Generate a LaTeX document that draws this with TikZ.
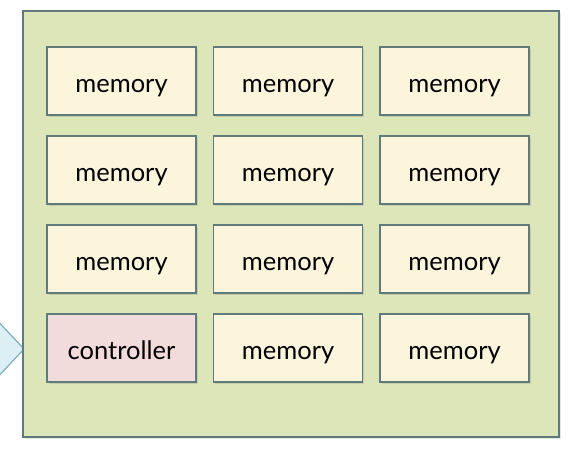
\documentclass[tikz,border=0pt]{standalone}
\usepackage{fontspec}
\setmainfont{Lato}
\usepackage{tikz}
\usetikzlibrary{positioning}
\usetikzlibrary{shadows}

\definecolor{boardgreen}{HTML}{DCE6B9}
\definecolor{boxcream}{HTML}{FDF4DC}
\definecolor{ctrlpink}{HTML}{F2DCDB}
\definecolor{edgegray}{HTML}{5F7B7B}
\definecolor{arrowblue}{HTML}{DCEFF5}
\definecolor{arrowedge}{HTML}{7AAFC0}

\tikzset{
	cell/.style={draw=edgegray,line width=1.4pt,fill=boxcream,minimum width=149pt,minimum height=68pt,
		inner sep=0pt,outer sep=0pt,text height=26pt,text depth=3pt,font=\fontsize{25.5}{30}\selectfont,
		drop shadow={shadow xshift=1.5pt,shadow yshift=-1.5pt,opacity=0.25}},
	ctrlcell/.style={cell,fill=ctrlpink},
}

\begin{document}
\begin{tikzpicture}[x=1pt,y=1pt,node distance=21pt and 17.5pt]
			\useasboundingbox (0,0) rectangle (572,-458);
			%incoming arrow tip
			\draw[arrowedge,line width=1.2pt,fill=arrowblue] (-5,-318)--(24,-349)--(-5,-380);
			%board
			\coordinate (NW) at (23,-11);
			\coordinate (SE) at (559,-437);
			\draw[edgegray,line width=1.4pt,fill=boardgreen,drop shadow={shadow xshift=1.5pt,shadow yshift=-1.5pt,opacity=0.2}] (NW) rectangle (SE);
			%first row
			\node[cell,anchor=north west] (mem11) at (47,-47) {memory};
			\node[cell,right=of mem11] (mem12) {memory};
			\node[cell,right=of mem12] (mem13) {memory};
			%second row
			\node[cell,below=of mem11] (mem21) {memory};
			\node[cell,right=of mem21] (mem22) {memory};
			\node[cell,right=of mem22] (mem23) {memory};
			%third row
			\node[cell,below=of mem21] (mem31) {memory};
			\node[cell,right=of mem31] (mem32) {memory};
			\node[cell,right=of mem32] (mem33) {memory};
			%fourth row, controller first
			\node[ctrlcell,below=of mem31] (ctrl) {controller};
			\node[cell,right=of ctrl] (mem42) {memory};
			\node[cell,right=of mem42] (mem43) {memory};
		\end{tikzpicture}
\end{document}
